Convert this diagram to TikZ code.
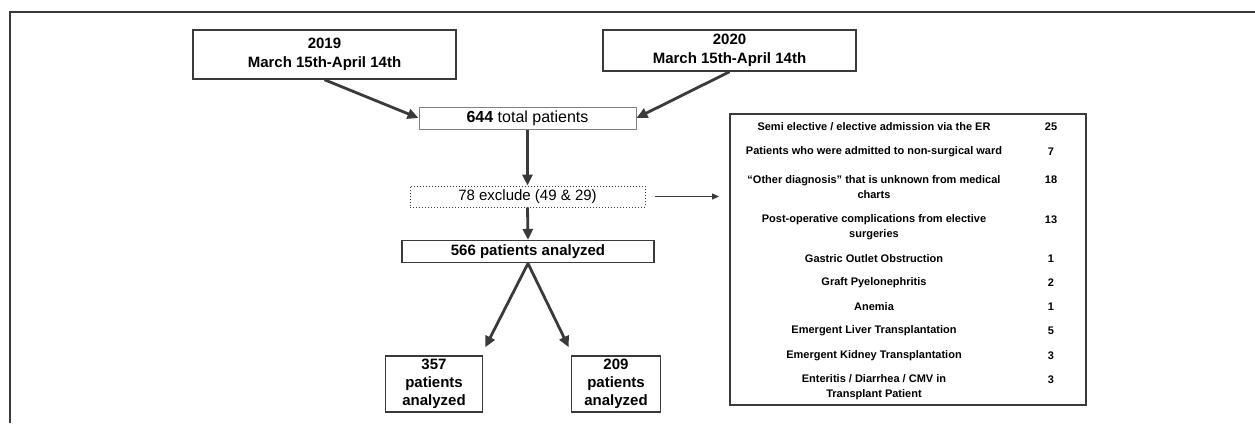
\documentclass[tikz,border=0pt]{standalone}
\usepackage{fontspec}
\setmainfont{Liberation Sans}
\usetikzlibrary{arrows.meta,calc}
\definecolor{lc}{HTML}{3A3A3A}
\definecolor{lg}{HTML}{808080}
\begin{document}
\begin{tikzpicture}[x=1pt,y=-1pt,
  box/.style={draw=lc, line width=1.5pt, inner sep=0pt, align=center},
  bigb/.style={font=\fontsize{15}{19}\selectfont\bfseries},
  arr/.style={draw=lc, line width=2.8pt, -{Triangle[length=11pt,width=10pt]}},
  thinarr/.style={draw=lc, line width=1pt, -{Triangle[length=7pt,width=6pt]}},
  tt/.style={inner sep=0pt, align=center, font=\fontsize{11}{15}\selectfont\bfseries}]
\useasboundingbox (0,0) rectangle (1255,423);
% outer frame
\draw[lc, line width=2pt] (9.5,423) -- (9.5,11.5) -- (1255,11.5);
% boxes
\node[box, bigb, minimum width=263pt, minimum height=49pt] (b2019) at (324.5,54.5) {2019\\March 15th-April 14th};
\node[box, bigb, minimum width=253pt, minimum height=41pt] (b2020) at (729.5,50.5) {2020\\March 15th-April 14th};
\node[box, draw=lg, line width=1pt, minimum width=217pt, minimum height=22pt, font=\fontsize{16}{18}\selectfont] (total) at (527.5,118) {\textbf{644} total patients};
\node[box, line width=1pt, dotted, minimum width=235pt, minimum height=21pt, font=\fontsize{15}{17}\selectfont] (excl) at (527.5,196.5) {78 exclude (49 \& 29)};
\node[box, bigb, minimum width=252pt, minimum height=22pt] (a566) at (528,251.7) {566 patients analyzed};
\node[box, font=\fontsize{15}{18}\selectfont\bfseries, minimum width=97pt, minimum height=56pt] (b357) at (434,384) {357\\patients\\analyzed};
\node[box, font=\fontsize{15}{18}\selectfont\bfseries, minimum width=89pt, minimum height=56pt] (b209) at (616,384) {209\\patients\\analyzed};
\node[box, minimum width=356pt, minimum height=291pt] (tbl) at (907.8,259.5) {};
% arrows
\draw[arr] (b2019.south) -- (total.west);
\draw[arr] (b2020.south) -- (total.east);
\draw[arr] (total.south) -- (excl.north);
\draw[arr] (excl.south) -- (a566.north);
\draw[arr] (a566.south) -- ($(b357.north east)+(2,-8)$);
\draw[arr] (a566.south) -- ($(b209.north west)+(-2,-8)$);
\draw[thinarr, shorten <=9pt, shorten >=10pt] (excl.east) -- (excl.east -| tbl.west);
% table rows
\node[tt] (r1) at (874,126.7) {Semi elective / elective admission via the ER};
\node[tt] (r2) at (874,151.7) {Patients who were admitted to non-surgical ward};
\node[tt] (r3) at (874,187.5) {“Other diagnosis" that is unknown from medical\\charts};
\node[tt] (r4) at (874,227.5) {Post-operative complications from elective\\surgeries};
\node[tt] (r5) at (874,258.3) {Gastric Outlet Obstruction};
\node[tt] (r6) at (874,282.3) {Graft Pyelonephritis};
\node[tt] (r7) at (874,306.7) {Anemia};
\node[tt] (r8) at (874,330.7) {Emergent Liver Transplantation};
\node[tt] (r9) at (874,355.3) {Emergent Kidney Transplantation};
\node[tt] (r10) at (874,386.8) {Enteritis / Diarrhea / CMV in\\Transplant Patient};
\node[tt] (n1) at (1051,126.7) {25};
\node[tt] (n2) at (1051,151.7) {7};
\node[tt] (n3) at (1051,180) {18};
\node[tt] (n4) at (1051,220) {13};
\node[tt] (n5) at (1051,258.3) {1};
\node[tt] (n6) at (1051,282.3) {2};
\node[tt] (n7) at (1051,306.7) {1};
\node[tt] (n8) at (1051,330.7) {5};
\node[tt] (n9) at (1051,355.3) {3};
\node[tt] (n10) at (1051,379.3) {3};
\end{tikzpicture}
\end{document}
